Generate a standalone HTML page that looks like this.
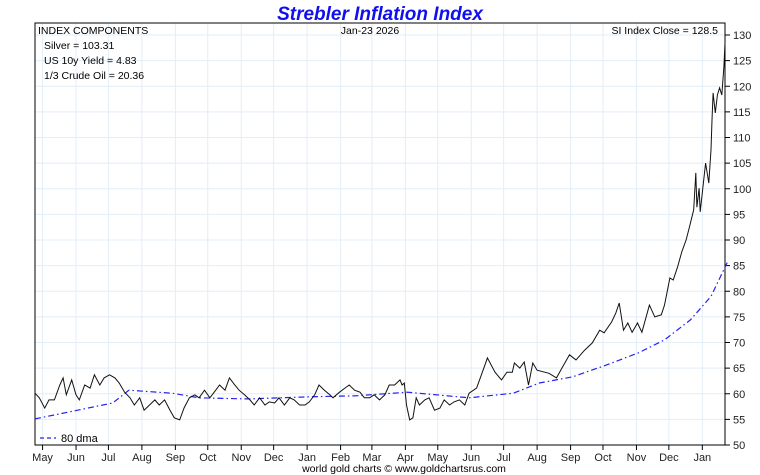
<!DOCTYPE html>
<html><head><meta charset="utf-8"><style>
body{margin:0;background:#fff;}
svg{display:block;font-family:"Liberation Sans",sans-serif;}
</style></head><body>
<svg id="c" width="760" height="475"></svg>
<script>
const priceDays=[-7,-3,2,6,11,16,19,22,27,31,34,39,44,48,53,57,62,67,71,76,81,85,90,94,99,104,108,113,118,122,127,131,136,141,145,150,155,159,164,169,173,178,182,187,192,196,201,206,210,215,219,224,229,233,238,243,247,252,256,261,266,269,275,280,284,289,294,298,303,307,312,317,321,326,331,333,335,337,340,343,346,349,354,358,363,368,372,377,381,386,391,395,402,409,412,419,425,430,435,437,442,446,450,454,458,469,476,481,488,494,502,509,516,520,527,531,534,538,542,546,551,555,562,567,573,576,581,584,588,592,596,599,603,605,606,608,609,611,614,617,619,620,621,623,625,627,629,631,632];
const priceVals=[60.1,59.2,57.2,58.8,58.8,61.7,63.1,59.8,62.7,59.8,58.8,61.7,61.1,63.7,61.7,63.1,63.7,63.1,62.1,60.3,59.2,57.8,59.2,56.8,57.8,58.8,57.8,58.8,56.8,55.3,54.9,57.2,59.2,59.8,59.2,60.7,59.2,60.3,61.7,60.7,63.1,61.7,60.7,59.8,58.8,57.8,59.2,57.8,58.4,58.2,59.2,57.8,59.2,58.8,57.8,57.8,58.4,59.8,61.7,60.7,59.8,59.2,60.3,61.1,61.7,60.7,60.3,59.2,59.2,59.8,58.8,59.8,61.7,61.7,62.7,61.7,62.1,57.8,54.9,55.3,59.2,57.8,58.8,59.2,56.8,57.2,58.8,57.8,58.4,58.8,57.8,60.1,61.1,65.2,67.0,64.2,62.7,64.2,64.2,66.0,65.0,66.2,61.7,66.0,64.6,64.0,63.1,65.0,67.6,66.6,68.5,69.9,72.4,71.9,74.0,75.8,77.7,72.4,73.8,72.0,73.8,72.0,77.3,75.0,75.4,77.3,82.6,82.2,84.7,87.7,90.0,92.5,95.9,103.1,96.4,100.1,95.5,99.2,105.0,101.1,107.6,113.4,118.7,114.8,118.3,119.7,118.3,123.8,128.5];
const dmaDays=[-7,65,80,120,145,188,191,247,290,338,395,436,460,491,522,552,576,600,619,634];
const dmaVals=[55.1,58.2,60.7,60.1,59.2,59.0,59.0,59.4,59.6,60.3,59.2,60.1,62.1,63.3,65.6,68.0,70.5,74.4,79.0,85.6];
const yTicks=[50,55,60,65,70,75,80,85,90,95,100,105,110,115,120,125,130];
const monthLabels=["May","Jun","Jul","Aug","Sep","Oct","Nov","Dec","Jan","Feb","Mar","Apr","May","Jun","Jul","Aug","Sep","Oct","Nov","Dec","Jan"];
const monthDays=[0,31,61,92,123,153,184,214,245,276,305,336,366,397,427,458,489,519,550,580,611];

const L=35,R=725,T=23,B=445;
const X=d=>L+(d+7)*(R-L)/639;
const Y=v=>B-(v-50)*(B-35)/80;
const NS="http://www.w3.org/2000/svg";
const svg=document.getElementById('c');
function mk(t,a,p){const e=document.createElementNS(NS,t);for(const k in a)e.setAttribute(k,a[k]);(p||svg).appendChild(e);return e;}

const grid=mk('g',{});


yTicks.forEach(v=>{mk('line',{x1:L,x2:R,y1:Y(v),y2:Y(v),stroke:'#e3eef7','stroke-width':1},grid);});
monthDays.forEach(d=>{mk('line',{x1:X(d),x2:X(d),y1:T,y2:B,stroke:'#e3eef7','stroke-width':1},grid);});

const frame=mk('rect',{x:L,y:T,width:R-L,height:B-T,fill:'none',stroke:'#000','stroke-width':1});



const yax=mk('g',{});


yTicks.forEach(v=>{
 mk('line',{x1:R,x2:R+5,y1:Y(v),y2:Y(v),stroke:'#000'},yax);
 const t=mk('text',{x:R+8,y:Y(v)+4,'font-size':11,fill:'#222'},yax);t.textContent=v;
 
 
});
const xax=mk('g',{});


monthDays.forEach((d,i)=>{
 mk('line',{x1:X(d),x2:X(d),y1:B,y2:B+5,stroke:'#000'},xax);
 const t=mk('text',{x:X(d),y:461,'font-size':11,fill:'#222','text-anchor':'middle'},xax);t.textContent=monthLabels[i];
 
 
});

const dma=mk('path',{d:dmaDays.map((d,i)=>(i?'L':'M')+X(d).toFixed(1)+','+Y(dmaVals[i]).toFixed(1)).join(''),fill:'none',stroke:'#2222ee','stroke-width':1.2,'stroke-dasharray':'6,3,1.5,3'});


const pl=mk('path',{d:priceDays.map((d,i)=>(i?'L':'M')+X(d).toFixed(1)+','+Y(priceVals[i]).toFixed(1)).join(''),fill:'none',stroke:'#111','stroke-width':1});



function txt(x,y,s,str,name,anchor,extra){const t=mk('text',Object.assign({x:x,y:y,'font-size':s,fill:'#000','text-anchor':anchor||'start'},extra||{}));t.textContent=str;
 
 return t;}
txt(380,20,19,'Strebler Inflation Index','chart-title','middle',{fill:'#1010ee','font-weight':'bold','font-style':'italic'});
txt(38,34,10.5,'INDEX COMPONENTS','components-heading');
txt(44,49,10.5,'Silver = 103.31','silver-value');
txt(44,64,10.5,'US 10y Yield = 4.83','yield-value');
txt(44,79,10.5,'1/3 Crude Oil = 20.36','oil-value');
txt(370,34,10.5,'Jan-23  2026','chart-date','middle');
txt(718,34,10.5,'SI Index Close = 128.5','index-close','end');
const lg=mk('line',{x1:40,x2:56,y1:438,y2:438,stroke:'#2222ee','stroke-width':1.2,'stroke-dasharray':'4,3'});


txt(61,442,11,'80 dma','legend-dma-label');
txt(404,472,10.5,'world gold charts © www.goldchartsrus.com','footer-credit','middle');
</script>
</body></html>
